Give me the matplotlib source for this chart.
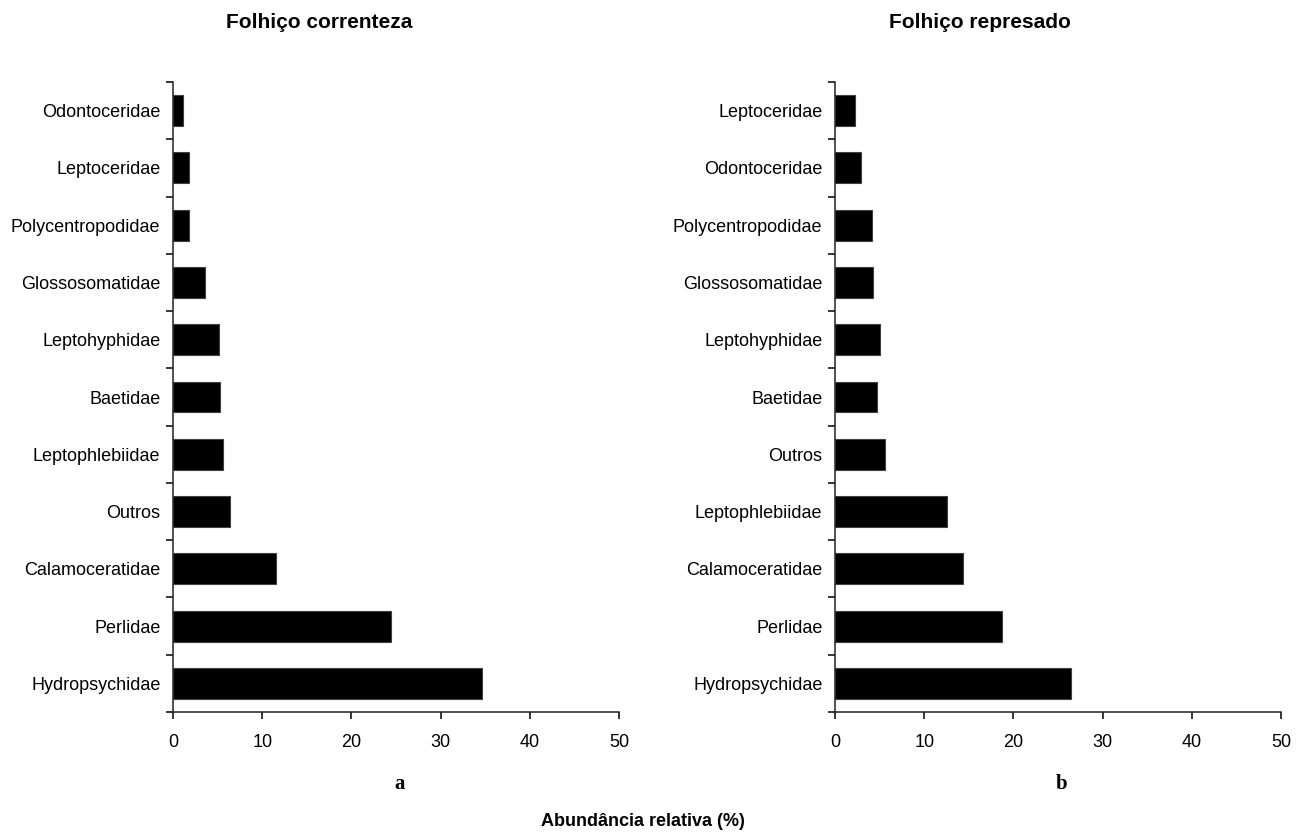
import numpy as np
import matplotlib
matplotlib.use("Agg")
import matplotlib.pyplot as plt

# Relative abundance (%) of families, listed bottom to top of each panel
fam_corr = ["Hydropsychidae", "Perlidae", "Calamoceratidae", "Outros",
            "Leptophlebiidae", "Baetidae", "Leptohyphidae", "Glossosomatidae",
            "Polycentropodidae", "Leptoceridae", "Odontoceridae"]
abund_corr = [34.6, 24.4, 11.5, 6.4, 5.6, 5.3, 5.2, 3.6, 1.8, 1.8, 1.1]

fam_rep = ["Hydropsychidae", "Perlidae", "Calamoceratidae", "Leptophlebiidae",
           "Outros", "Baetidae", "Leptohyphidae", "Glossosomatidae",
           "Polycentropodidae", "Odontoceridae", "Leptoceridae"]
abund_rep = [26.5, 18.7, 14.4, 12.6, 5.6, 4.7, 5.0, 4.3, 4.1, 2.9, 2.2]

titles = ["Folhiço correnteza", "Folhiço represado"]
panel_tags = ["a", "b"]
xticks = [0, 10, 20, 30, 40, 50]

plt.rcParams["font.family"] = ["Liberation Sans", "DejaVu Sans"]

W, H = 1309, 834
fig = plt.figure(figsize=(W / 100, H / 100), dpi=100)

def add_panel(left_px, fams, vals):
    ax = fig.add_axes([left_px / W, 122 / H, 446 / W, 630 / H])
    y = np.arange(len(fams))
    ax.barh(y, vals, height=0.54, color="black", edgecolor="#404040", linewidth=0.8)
    ax.set_xlim(0, 50)
    ax.set_ylim(-0.5, len(fams) - 0.5)
    ax.set_xticks(xticks)
    ax.set_xticklabels([str(t) for t in xticks], fontsize=13)
    ax.set_yticks(y)
    ax.set_yticklabels(fams, fontsize=13)
    # tick marks sit on the boundaries between bars
    ax.set_yticks(np.arange(len(fams) + 1) - 0.5, minor=True)
    ax.tick_params(axis="y", which="major", length=0, pad=9)
    ax.tick_params(axis="y", which="minor", length=5, width=1.1, direction="out")
    ax.tick_params(axis="x", length=5, width=1.1, direction="out", pad=11)
    for s in ["top", "right"]:
        ax.spines[s].set_visible(False)
    for s in ["left", "bottom"]:
        ax.spines[s].set_linewidth(1.1)
        ax.spines[s].set_color("#222222")
    return ax

ax1 = add_panel(173, fam_corr, abund_corr)
ax2 = add_panel(835, fam_rep, abund_rep)

# panel titles
fig.text(319 / W, 1 - 23 / H, titles[0], ha="center", va="center",
         fontsize=15, fontweight="bold")
fig.text(980 / W, 1 - 23 / H, titles[1], ha="center", va="center",
         fontsize=15, fontweight="bold")

# panel letters
fig.text(400 / W, 1 - 784 / H, panel_tags[0], ha="center", va="center",
         fontsize=15, fontweight="bold", family="Liberation Serif")
fig.text(1062 / W, 1 - 784 / H, panel_tags[1], ha="center", va="center",
         fontsize=15, fontweight="bold", family="Liberation Serif")

# shared x label
fig.text(643 / W, 1 - 821 / H, "Abundância relativa (%)", ha="center",
         va="center", fontsize=13, fontweight="bold")

fig.savefig("out.png", dpi=100)
